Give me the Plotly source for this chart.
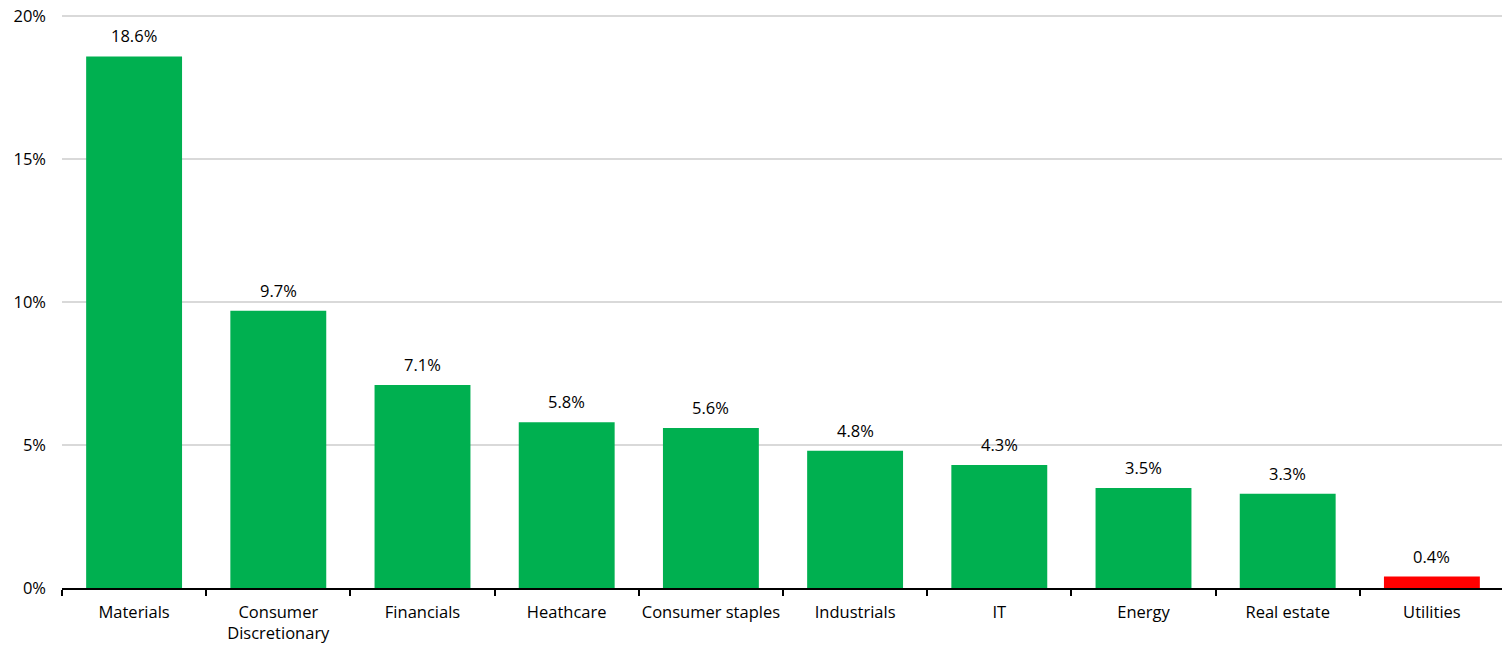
import plotly.graph_objects as go

categories = ["Materials", "Consumer<br>Discretionary", "Financials", "Heathcare",
              "Consumer staples", "Industrials", "IT", "Energy", "Real estate", "Utilities"]
values = [18.6, 9.7, 7.1, 5.8, 5.6, 4.8, 4.3, 3.5, 3.3, 0.4]
labels = ["18.6%", "9.7%", "7.1%", "5.8%", "5.6%", "4.8%", "4.3%", "3.5%", "3.3%", "0.4%"]
y_ticks = [0, 5, 10, 15, 20]
colors = ["#00b050"] * 9 + ["#ff0000"]

fig = go.Figure(go.Bar(
    x=categories, y=values,
    marker=dict(color=colors, line=dict(width=0)),
    width=0.665,
))
for c, v, t in zip(categories, values, labels):
    fig.add_annotation(x=c, y=v, text=t, showarrow=False, yanchor="bottom",
                       yshift=7, font=dict(size=16.5, color="#000000"))
# page body has an 8px default margin, so the figure is offset by 8px
fig.update_layout(
    width=1502, height=639, margin=dict(l=54, r=6, t=7, b=59),
    plot_bgcolor="white", paper_bgcolor="white",
    font=dict(family="Open Sans, sans-serif", size=16.5, color="#000000"),
    showlegend=False,
)
fig.update_xaxes(showline=True, linecolor="#000000", linewidth=2, ticks="outside",
                 tickson="boundaries", ticklen=6, tickwidth=2, tickcolor="#000000",
                 showgrid=False, tickfont=dict(size=16.5), automargin=False,
                 tickangle=0, ticklabelstandoff=8)
fig.update_yaxes(range=[0, 20.05], tickmode="array", tickvals=y_ticks,
                 ticktext=[f"{v}%" for v in y_ticks], showgrid=True,
                 gridcolor="#d9d9d9", gridwidth=2, zeroline=False, showline=False,
                 tickfont=dict(size=16.5), ticks="", automargin=False,
                 ticklabeloverflow="allow", ticklabelstandoff=15)
fig.write_html("out.html")
